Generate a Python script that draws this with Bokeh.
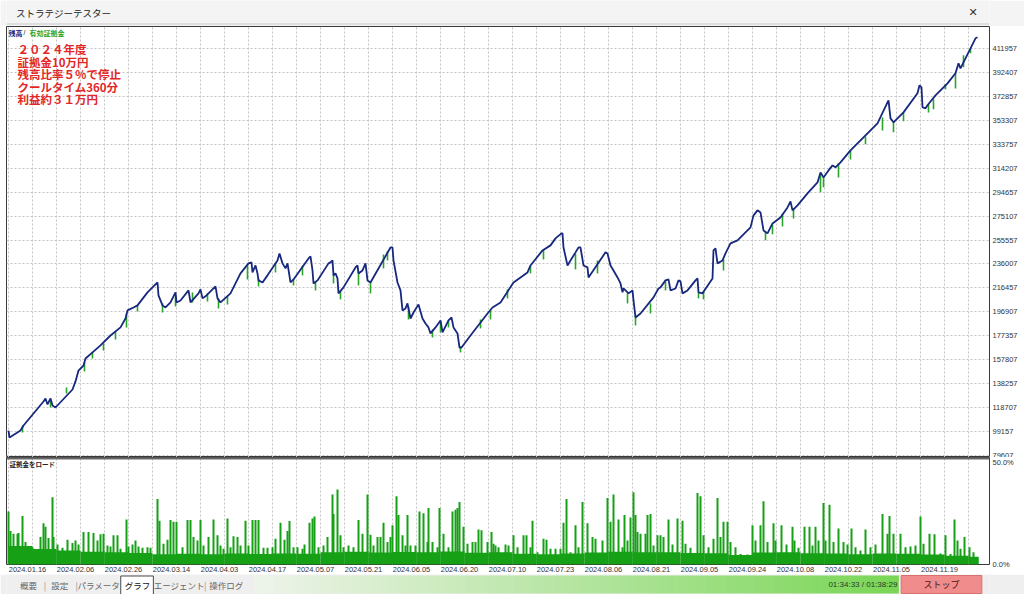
from bokeh.plotting import figure
from bokeh.models import FixedTicker, Range1d, Label, Span
from bokeh.layouts import column
from bokeh.embed import file_html
from bokeh.resources import INLINE

# ---------------- data ----------------
date_labels = ["2024.01.16", "2024.02.06", "2024.02.26", "2024.03.14", "2024.04.03",
               "2024.04.17", "2024.05.07", "2024.05.21", "2024.06.05", "2024.06.20",
               "2024.07.10", "2024.07.23", "2024.08.06", "2024.08.21", "2024.09.05",
               "2024.09.24", "2024.10.08", "2024.10.22", "2024.11.05", "2024.11.19"]
bars_per_label = 48

y_ticks = [79607, 99157, 118707, 138257, 157807, 177357, 196907, 216457, 236007,
           255557, 275107, 294657, 314207, 333757, 353307, 372857, 392407, 411957]

# balance (bar index, yen)
bal_bar = [0, 1, 12, 15, 35, 37, 39, 42, 44, 47, 64, 67, 70, 75, 77, 84, 92, 102, 112, 117,
           119, 125, 129, 139, 149, 150, 154, 157, 162, 167, 168, 172, 180, 182, 190, 192, 194, 198, 207, 209,
           212, 222, 232, 240, 243, 244, 247, 249, 250, 254, 259, 269, 271, 274, 277, 279, 282, 285, 300, 302,
           304, 305, 309, 320, 322, 324, 325, 327, 329, 330, 335, 347, 349, 350, 354, 357, 359, 362, 382, 384,
           385, 389, 392, 394, 397, 399, 402, 405, 410, 414, 417, 420, 422, 427, 432, 434, 440, 443, 445, 449,
           451, 453, 462, 479, 484, 492, 505, 519, 522, 534, 542, 547, 553, 554, 555, 559, 562, 567, 570, 572,
           575, 579, 580, 597, 599, 602, 605, 609, 612, 614, 615, 620, 624, 625, 627, 632, 645, 650, 652, 657,
           660, 662, 667, 670, 672, 674, 679, 687, 689, 690, 694, 704, 705, 707, 709, 714, 717, 722, 729, 742,
           745, 749, 752, 755, 759, 764, 772, 779, 782, 784, 789, 799, 809, 812, 815, 820, 824, 827, 832, 842,
           855, 869, 879, 880, 882, 885, 895, 909, 911, 913, 914, 917, 919, 927, 939, 947, 950, 952, 962, 967,
           969]
bal_yen = [100000, 94300, 100000, 104100, 123700, 126200, 121300, 126200, 120500, 118800,
           133500, 140100, 149000, 153100, 158800, 163800, 169500, 177600, 184200, 191500,
           198100, 200500, 202200, 212800, 220900, 210300, 202200, 200500, 204600, 212800,
           204600, 206200, 214400, 204600, 212000, 215200, 207900, 210300, 217700, 207900,
           204600, 212000, 228300, 236500, 237300, 229100, 234800, 228300, 222600, 220900,
           226700, 238900, 244600, 236500, 232400, 236500, 220900, 223400, 240500, 242200,
           230700, 220100, 222600, 236500, 237300, 238900, 226700, 228300, 224200, 212000,
           216900, 233200, 234800, 228300, 230700, 236500, 222600, 220900, 249500, 249500,
           238900, 220900, 214400, 198100, 199700, 203800, 191500, 196400, 203000, 191500,
           187400, 184200, 179300, 184200, 189900, 180100, 189900, 192300, 184200, 179300,
           167800, 167800, 177600, 195600, 200500, 204600, 220900, 229100, 234800, 247100,
           251200, 256900, 261000, 261000, 249500, 234800, 238900, 245500, 249500, 249500,
           234800, 233200, 225000, 245500, 244600, 234800, 230700, 225000, 220100, 212800,
           216000, 212000, 214400, 206200, 192300, 195600, 208700, 216000, 216900, 222600,
           223400, 214400, 216000, 222600, 221800, 212000, 214400, 222600, 224200, 212800,
           212000, 224200, 247100, 248700, 236500, 238900, 244600, 252800, 255300, 265900,
           275700, 279800, 278100, 263400, 261000, 269100, 274000, 282200, 287100, 279800,
           283900, 293700, 302600, 310800, 306700, 312400, 316500, 314900, 319000, 328800,
           339400, 350800, 368000, 369600, 354900, 351700, 359800, 375400, 381900, 380300,
           364000, 363100, 365600, 373700, 383500, 391700, 399900, 395800, 412100, 420300,
           421100]
assert len(bal_bar) == len(bal_yen)

# equity drawdown spikes (bar index, equity before dip, equity low)
dip_bar = [14, 42, 58, 76, 84, 95, 107, 118, 129, 154, 167, 184, 199, 210, 219, 239, 250, 267, 285, 294,
           307, 325, 332, 350, 362, 375, 379, 400, 424, 432, 440, 452, 472, 482, 499, 522, 535, 567, 589, 619,
           627, 642, 657, 690, 695, 715, 757, 764, 774, 785, 812, 815, 830, 842, 857, 874, 885, 895, 920, 925,
           937, 947, 955, 962]
dip_top = [104100, 125400, 135200, 155600, 163800, 171100, 180900, 195600, 202200, 203800,
           209500, 212800, 212000, 207900, 209500, 234800, 224200, 237300, 223400, 234800,
           221800, 227500, 213600, 229900, 220900, 243800, 246300, 201300, 182500, 189100,
           189900, 168700, 190700, 198100, 215200, 234000, 247900, 244600, 238900, 212000,
           194000, 203800, 221800, 212800, 213600, 239700, 262600, 268300, 277300, 281400,
           308400, 307500, 318200, 328800, 340200, 355700, 352500, 359800, 366400, 370500,
           382700, 391700, 406400, 412100]
dip_low = [98400, 118800, 130300, 148200, 158800, 165400, 174400, 184200, 197200, 196400,
           201300, 204600, 205400, 199700, 203000, 223400, 217700, 229100, 218500, 226700,
           214400, 220100, 207100, 218500, 212000, 232400, 238900, 190700, 176000, 180100,
           184200, 163800, 183400, 190700, 207900, 228300, 239700, 231600, 228300, 203800,
           185800, 195600, 214400, 207900, 207100, 230700, 255300, 260200, 266700, 273200,
           294500, 298600, 306700, 321400, 333700, 345100, 343500, 352500, 359800, 362300,
           378600, 379400, 396600, 408000]
assert len(dip_bar) == len(dip_top) == len(dip_low)

# margin load (%) spikes
load_bar = [0, 2, 5, 9, 10, 14, 17, 20, 24, 27, 32, 35, 37, 40, 44, 45, 49, 54, 59, 64,
            67, 70, 75, 80, 85, 89, 92, 95, 99, 102, 105, 109, 112, 118, 120, 124, 127, 130, 134, 139,
            142, 149, 151, 155, 159, 162, 165, 168, 174, 179, 182, 185, 189, 192, 195, 200, 205, 209, 212, 215,
            219, 222, 225, 229, 232, 237, 240, 244, 247, 250, 255, 259, 264, 267, 272, 276, 279, 281, 285, 289,
            294, 296, 301, 304, 306, 310, 315, 319, 324, 325, 329, 332, 335, 340, 345, 350, 354, 359, 362, 365,
            369, 372, 375, 379, 382, 384, 388, 390, 394, 397, 399, 402, 407, 411, 415, 419, 420, 424, 429, 431,
            435, 440, 444, 447, 449, 451, 455, 459, 464, 467, 470, 473, 479, 483, 485, 487, 489, 490, 497, 500,
            505, 509, 515, 518, 522, 524, 529, 535, 538, 542, 547, 552, 555, 558, 562, 567, 570, 574, 579, 584,
            587, 594, 599, 602, 605, 610, 614, 616, 619, 622, 625, 627, 629, 632, 637, 639, 642, 645, 649, 652,
            655, 660, 664, 669, 674, 677, 682, 689, 692, 695, 700, 705, 709, 712, 715, 719, 722, 727, 732, 739,
            744, 747, 752, 755, 759, 765, 767, 773, 778, 784, 786, 790, 796, 801, 804, 807, 810, 815, 817, 821,
            825, 830, 835, 839, 843, 847, 852, 857, 862, 867, 874, 879, 881, 885, 892, 897, 902, 907, 912, 915,
            921, 926, 932, 937, 942, 946, 949, 952, 956, 961, 965, 969]
load_pct = [25.7, 16.3, 15.0, 15.0, 15.3, 23.6, 10.9, 8.4, 8.4, 5.1, 13.4, 20.0, 18.3, 12.9, 32.7, 13.4, 9.7, 8.1, 12.0, 10.4,
            11.7, 9.7, 15.8, 15.8, 15.3, 11.7, 14.7, 15.0, 9.2, 8.7, 14.2, 14.2, 7.6, 21.9, 8.7, 9.7, 11.7, 8.7, 8.1, 8.4,
            8.1, 31.8, 21.3, 10.1, 12.0, 21.6, 20.8, 20.8, 8.4, 21.6, 21.6, 13.4, 11.7, 21.6, 9.2, 13.4, 21.9, 14.2, 9.2, 7.6,
            22.4, 8.4, 13.7, 13.4, 9.2, 21.3, 9.2, 21.6, 21.6, 21.6, 8.1, 8.1, 8.4, 12.5, 20.3, 12.0, 16.3, 21.1, 8.4, 8.4,
            7.6, 9.7, 20.3, 22.4, 23.3, 8.4, 9.2, 13.4, 34.0, 24.6, 36.5, 14.2, 8.4, 9.2, 8.4, 21.6, 15.0, 34.0, 14.5, 9.2,
            13.4, 13.4, 20.3, 10.9, 13.4, 19.1, 33.2, 24.1, 14.2, 9.2, 24.1, 9.2, 9.2, 25.7, 24.9, 10.9, 27.4, 10.9, 8.4, 27.4,
            15.0, 8.4, 25.7, 26.6, 27.4, 30.4, 18.3, 10.1, 10.9, 10.9, 17.0, 16.7, 10.9, 15.8, 10.1, 9.2, 5.9, 8.4, 9.7, 9.2,
            14.2, 8.4, 14.2, 14.2, 8.4, 21.3, 5.9, 12.5, 12.0, 7.6, 7.6, 7.6, 20.3, 31.8, 5.9, 19.1, 8.4, 30.4, 20.0, 13.4,
            12.5, 11.7, 32.3, 20.8, 34.0, 21.9, 8.4, 24.1, 11.7, 22.9, 35.1, 24.1, 15.8, 15.0, 15.0, 24.1, 24.6, 9.2, 14.2, 14.2,
            13.4, 21.9, 9.7, 22.4, 21.3, 10.1, 8.1, 34.8, 33.2, 14.2, 8.4, 12.5, 32.3, 13.4, 20.8, 20.8, 10.9, 8.4, 5.1, 4.8,
            19.1, 11.7, 19.1, 30.7, 10.9, 20.0, 11.7, 19.1, 9.7, 18.3, 11.7, 8.1, 18.3, 18.3, 9.2, 18.3, 11.7, 29.9, 11.7, 29.0,
            10.9, 17.5, 10.9, 9.7, 17.5, 8.4, 6.8, 17.0, 8.4, 9.7, 24.6, 15.0, 23.6, 15.0, 15.0, 8.4, 8.7, 9.2, 23.3, 10.1,
            15.0, 14.7, 5.4, 14.2, 5.1, 21.9, 11.7, 7.6, 13.4, 8.4, 5.9, 3.5]
assert len(load_bar) == len(load_pct)

# base margin load level for each 24-bar block
floor_pct = [9.0, 7.5, 6.8, 6.2, 5.9, 5.6, 5.0, 5.2, 5.0, 5.3, 5.1, 5.4, 5.2, 6.0, 6.2, 5.8, 6.1, 5.9, 6.3, 5.7,
             6.0, 5.2, 5.0, 5.4, 5.8, 6.2, 6.0, 5.9, 5.6, 5.5, 4.6, 5.8, 6.0, 5.5, 5.3, 5.0, 5.4, 5.2, 4.8, 4.3, 3.8]

# ---------------- styling ----------------
W = 1024
NAVY = "#17287e"
EQ_GREEN = "#2aa52a"
LOAD_GREEN = "#16a016"
GRID = "#c4c4c4"
RED = "#e32626"
AX_FONT = "Liberation Sans"
JP = "Noto Sans CJK JP"
EDGE = "#f0f0f0"

X0, X1 = -2, 981
Y0, Y1 = 77974, 429928
MAIN_H = 431
TITLE_H = 26
SUB_H = 117
TB_H = 20
LEFT = 6
RIGHT = 35


def px_x(ref_px):
    return X0 + (ref_px - LEFT) * (X1 - X0) / 983.0


def px_y(ref_py):
    return Y1 - (ref_py - TITLE_H) * (Y1 - Y0) / MAIN_H


grid_ticks = [24 * k for k in range(42)]

# ---- title bar ----
pt = figure(width=W, height=TITLE_H, x_range=Range1d(0, W), y_range=Range1d(0, TITLE_H),
            output_backend="svg", toolbar_location=None,
            x_axis_location=None, y_axis_location=None,
            min_border_left=0, min_border_right=0, min_border_top=0, min_border_bottom=0)
pt.grid.visible = False
pt.outline_line_color = None
pt.background_fill_color = "#f4f4f4"
pt.border_fill_color = "#f4f4f4"
pt.add_layout(Label(x=10, y=TITLE_H - 12, text="ストラテジーテスター", text_font=JP, text_font_size="9.5px",
                    text_color="#222222", text_baseline="middle"))
pt.add_layout(Label(x=1007, y=TITLE_H - 12, text="✕", text_font="DejaVu Sans", text_font_size="11px",
                    text_color="#333333", text_baseline="middle", text_align="center"))
pt.add_layout(Span(location=2.5, dimension="width", line_color="#c8c8c8", line_width=1))

# ---- main equity chart ----
p1 = figure(width=W, height=MAIN_H, x_range=Range1d(X0, X1), y_range=Range1d(Y0, Y1),
            output_backend="svg", toolbar_location=None,
            x_axis_location=None, y_axis_location="right",
            min_border_left=LEFT, min_border_right=RIGHT, min_border_top=0, min_border_bottom=0)
p1.background_fill_color = "white"
p1.border_fill_color = "white"
p1.outline_line_color = "#3a3a3a"
p1.outline_line_width = 1
p1.yaxis.ticker = FixedTicker(ticks=y_ticks)
p1.yaxis.major_label_overrides = {t: str(t) for t in y_ticks}
p1.yaxis.major_label_text_font = AX_FONT
p1.yaxis.major_label_text_font_size = "7.5px"
p1.yaxis.major_label_text_color = "#333333"
p1.yaxis.major_tick_out = 0
p1.yaxis.major_tick_in = 0
p1.yaxis.minor_tick_line_color = None
p1.yaxis.axis_line_color = None
p1.yaxis.major_label_standoff = 3
p1.xgrid.ticker = FixedTicker(ticks=grid_ticks)
for g in (p1.xgrid, p1.ygrid):
    g.grid_line_color = GRID
    g.grid_line_dash = "2 2"
    g.grid_line_width = 1

p1.segment(x0=dip_bar, y0=dip_top, x1=dip_bar, y1=dip_low, line_color=EQ_GREEN, line_width=1.6)
p1.line(bal_bar, bal_yen, line_color=NAVY, line_width=1.8)

# legend text
p1.add_layout(Label(x=px_x(8), y=px_y(32), text="残高", text_font=JP, text_font_size="7px",
                    text_font_style="bold", text_color=NAVY, text_baseline="middle"))
p1.add_layout(Label(x=px_x(23), y=px_y(32), text="/", text_font=AX_FONT, text_font_size="7px",
                    text_color="#222222", text_baseline="middle"))
p1.add_layout(Label(x=px_x(29), y=px_y(32), text="有効証拠金", text_font=JP, text_font_size="7px",
                    text_font_style="bold", text_color=EQ_GREEN, text_baseline="middle"))

notes = ["２０２４年度", "証拠金10万円", "残高比率５％で停止", "クールタイム360分", "利益約３１万円"]
note_y = [48, 61, 73, 86, 98]
for t, yy in zip(notes, note_y):
    p1.add_layout(Label(x=px_x(17), y=px_y(yy), text=t, text_font=JP, text_font_size="11.5px",
                        text_font_style="bold", text_color=RED, text_baseline="middle"))

# ---- margin load sub chart ----
p2 = figure(width=W, height=SUB_H, x_range=p1.x_range, y_range=Range1d(0, 52),
            output_backend="svg", toolbar_location=None,
            x_axis_location="below", y_axis_location="right",
            min_border_left=LEFT, min_border_right=RIGHT, min_border_top=0, min_border_bottom=0)
p2.background_fill_color = "white"
p2.border_fill_color = "white"
p2.outline_line_color = "#3a3a3a"
p2.ygrid.visible = False
p2.xgrid.ticker = FixedTicker(ticks=grid_ticks)
p2.xgrid.grid_line_color = GRID
p2.xgrid.grid_line_dash = "2 2"

label_ticks = [bars_per_label * k + 19 for k in range(len(date_labels))]
p2.xaxis.ticker = FixedTicker(ticks=label_ticks)
p2.xaxis.major_label_overrides = {t: s for t, s in zip(label_ticks, date_labels)}
p2.xaxis.major_label_text_font = AX_FONT
p2.xaxis.major_label_text_font_size = "7.5px"
p2.xaxis.major_label_text_color = "#333333"
p2.xaxis.major_tick_out = 0
p2.xaxis.major_tick_in = 0
p2.xaxis.minor_tick_line_color = None
p2.xaxis.axis_line_color = None
p2.xaxis.major_label_standoff = 2

p2.yaxis.ticker = FixedTicker(ticks=[0, 50])
p2.yaxis.major_label_overrides = {0: "0.0%", 50: "50.0%"}
p2.yaxis.major_label_text_font = AX_FONT
p2.yaxis.major_label_text_font_size = "7.5px"
p2.yaxis.major_label_text_color = "#333333"
p2.yaxis.major_tick_out = 0
p2.yaxis.major_tick_in = 0
p2.yaxis.minor_tick_line_color = None
p2.yaxis.axis_line_color = None
p2.yaxis.major_label_standoff = 3

last_bar = max(load_bar)
fl_left = [24 * i for i in range(len(floor_pct))]
fl_right = [min(24 * (i + 1), last_bar + 1) for i in range(len(floor_pct))]
p2.quad(left=fl_left, right=fl_right, bottom=0, top=floor_pct, fill_color=LOAD_GREEN, line_color=None)
p2.vbar(x=load_bar, top=load_pct, width=2.0, fill_color=LOAD_GREEN, line_color=None)
p2.add_layout(Span(location=52, dimension="width", line_color="#6a6a6a", line_width=4))
p2.add_layout(Label(x=px_x(9), y=49.0, text="証拠金をロード", text_font=JP, text_font_size="6.5px",
                    text_font_style="bold", text_color="#222222", text_baseline="middle"))

# ---- tab / status bar ----
ptab = figure(width=W, height=TB_H, x_range=Range1d(0, W), y_range=Range1d(0, TB_H),
              output_backend="svg", toolbar_location=None,
              x_axis_location=None, y_axis_location=None,
              min_border_left=0, min_border_right=0, min_border_top=0, min_border_bottom=0)
ptab.grid.visible = False
ptab.outline_line_color = None
ptab.background_fill_color = "#efefef"
ptab.border_fill_color = "#efefef"

# progress gradient (style only)
g_left, g_right, n_sl = 258, 929, 67
c0 = (238, 243, 234)
c1 = (122, 214, 86)
sl_l, sl_r, sl_c = [], [], []
for i in range(n_sl):
    f = i / (n_sl - 1)
    sl_l.append(g_left + (g_right - g_left) * i / n_sl)
    sl_r.append(g_left + (g_right - g_left) * (i + 1) / n_sl + 0.6)
    sl_c.append("#%02x%02x%02x" % tuple(int(round(a + (b - a) * f)) for a, b in zip(c0, c1)))
ptab.quad(left=sl_l, right=sl_r, bottom=1, top=TB_H - 1, fill_color=sl_c, line_color=None)
ptab.quad(left=[932], right=[1016], bottom=[1], top=[TB_H - 1], fill_color="#f08c8c", line_color="#d87070")
ptab.quad(left=[119], right=[153], bottom=[-2], top=[TB_H - 1.5], fill_color="white", line_color="#4a4a4a")

TY = 10
tabs = [("概要", 23, "#666666"), ("|", 40, "#888888"), ("設定", 55.5, "#666666"), ("|", 73, "#888888"),
        ("パラメータ", 96, "#666666"), ("グラフ", 136.5, "#111111"), ("エージェント", 180, "#666666"),
        ("|", 207, "#888888"), ("操作ログ", 229, "#666666")]
for t, xx, col in tabs:
    ptab.add_layout(Label(x=xx, y=TY, text=t, text_font=JP, text_font_size="8.5px",
                          text_color=col, text_align="center", text_baseline="middle"))
ptab.add_layout(Label(x=928, y=TY, text="01:34:33 / 01:38:29", text_font=AX_FONT,
                      text_font_size="8px", text_color="#2a3a2a", text_align="right",
                      text_baseline="middle"))
ptab.add_layout(Label(x=974, y=TY, text="ストップ", text_font=JP, text_font_size="9px",
                      text_color="#4a1414", text_align="center", text_baseline="middle"))

layout = column(pt, p1, p2, ptab, spacing=0)
open("out.html", "w").write(file_html(layout, INLINE))
